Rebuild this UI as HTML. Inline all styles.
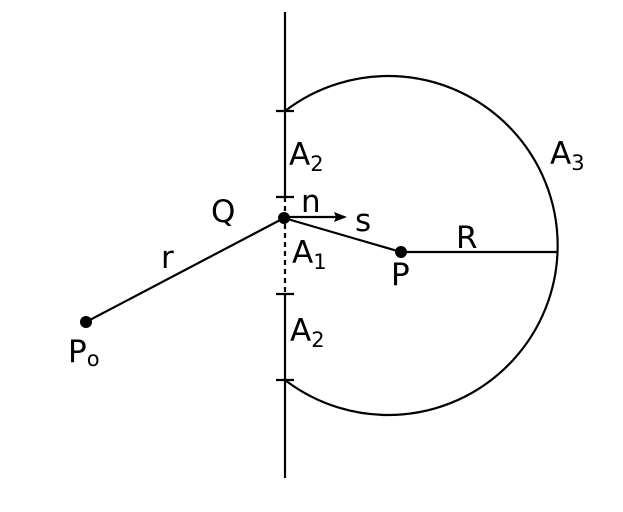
<!DOCTYPE html>
<html><head><style>body{margin:0;background:#fff}svg{display:block}text{font-family:"DejaVu Sans","Liberation Sans",sans-serif;fill:#000}</style></head>
<body>
<svg width="623" height="512" viewBox="0 0 623 512" xmlns="http://www.w3.org/2000/svg">
<g stroke="#000" stroke-width="2.2" fill="none">
<line x1="285" y1="12" x2="285" y2="197"/>
<line x1="285" y1="294" x2="285" y2="478"/>
<line x1="285" y1="197" x2="285" y2="294" stroke-dasharray="5,4"/>
<line x1="276" y1="111" x2="294" y2="111"/>
<line x1="276" y1="197" x2="294" y2="197"/>
<line x1="276" y1="294" x2="294" y2="294"/>
<line x1="276" y1="380" x2="294" y2="380"/>
<path d="M285 111 A169.5 169.5 0 1 1 285 380"/>
<line x1="86" y1="322" x2="284" y2="218"/>
<line x1="284" y1="218" x2="401" y2="252"/>
<line x1="401" y1="252" x2="558" y2="252"/>
<line x1="284" y1="217" x2="338" y2="217"/>
</g>
<polygon points="347,217 334,212 336,217 334,222" fill="#000"/>
<circle cx="284" cy="218" r="6" fill="#000"/>
<circle cx="401" cy="252" r="6" fill="#000"/>
<circle cx="86" cy="322" r="6" fill="#000"/>
<g font-size="31">
<text x="289" y="165">A<tspan font-size="21" dy="6">2</tspan></text>
<text x="292" y="263">A<tspan font-size="21" dy="6">1</tspan></text>
<text x="290" y="341">A<tspan font-size="21" dy="6">2</tspan></text>
<text x="550" y="164">A<tspan font-size="21" dy="6">3</tspan></text>
<text x="211" y="222">Q</text>
<text x="301" y="212">n</text>
<text x="355" y="231">s</text>
<text x="391" y="285">P</text>
<text x="456" y="248">R</text>
<text x="161" y="268">r</text>
<text x="68" y="362">P<tspan font-size="21" dy="4">o</tspan></text>
</g>
</svg>
</body></html>
